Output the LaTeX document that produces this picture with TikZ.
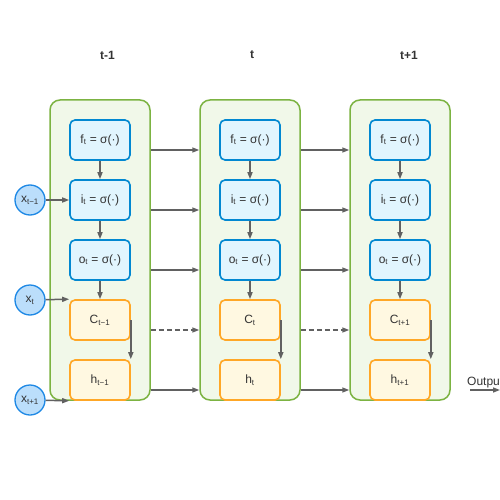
\documentclass[tikz,border=0pt]{standalone}
\usepackage{fontspec}
\setmainfont{Liberation Sans}
\usetikzlibrary{arrows.meta}

\definecolor{cellfill}{HTML}{F1F8E9}
\definecolor{cellline}{HTML}{7CB342}
\definecolor{gatefill}{HTML}{E1F5FE}
\definecolor{gateline}{HTML}{0288D1}
\definecolor{statefill}{HTML}{FFF8E1}
\definecolor{stateline}{HTML}{FFA726}
\definecolor{inpfill}{HTML}{BBDEFB}
\definecolor{inpline}{HTML}{1E88E5}
\definecolor{flow}{HTML}{616161}
\definecolor{ink}{HTML}{333333}

\tikzset{
    cellbox/.style={draw=cellline, fill=cellfill, line width=1.5pt, rounded corners=10pt,
        minimum width=100pt, minimum height=300pt, inner sep=0pt},
    gatebox/.style={draw=gateline, fill=gatefill, line width=1.6pt, rounded corners=5pt,
        minimum width=60pt, minimum height=40pt, inner sep=0pt, text=ink, font=\fontsize{12}{14}\selectfont},
    statebox/.style={gatebox, draw=stateline, fill=statefill},
    inpnode/.style={circle, draw=inpline, fill=inpfill, line width=1.3pt, minimum size=30pt,
        inner sep=0pt, text=ink, font=\fontsize{12}{14}\selectfont},
    steplabel/.style={anchor=west, inner sep=0pt, text=ink, font=\bfseries\fontsize{12}{14}\selectfont},
    flowarrow/.style={draw=flow, line width=1.5pt, -{Triangle[length=7pt,width=5pt]}}
}

\begin{document}
\begin{tikzpicture}[x=1pt, y=-1pt]
    \clip (0,0) rectangle (500,500);
    \fill[white] (0,0) rectangle (500,500);
    % one LSTM cell per time step
    \foreach \k/\lbl/\sub in {1/t-1/t−1, 2/t/t, 3/t+1/t+1} {
        \pgfmathsetmacro{\cx}{100+150*(\k-1)}
        \node[steplabel] (s\k) at (\cx,55) {\lbl};
        \node[cellbox] (c\k) at (\cx,250) {};
        \node[gatebox] (f\k) at (\cx,140) {f\textsubscript{t} = σ(·)};
        \node[gatebox] (i\k) at (\cx,200) {i\textsubscript{t} = σ(·)};
        \node[gatebox] (o\k) at (\cx,260) {o\textsubscript{t} = σ(·)};
        \node[statebox] (C\k) at (\cx,320) {C\textsubscript{\sub}};
        \node[statebox] (h\k) at (\cx,380) {h\textsubscript{\sub}};
        \draw[flowarrow] (f\k) -- (i\k);
        \draw[flowarrow] (i\k) -- (o\k);
        \draw[flowarrow] (o\k) -- (C\k);
        \draw[flowarrow] (C\k.east) -- (C\k.east |- h\k.north);
    }
    % links between time steps
    \foreach \a/\b in {1/2, 2/3} {
        \draw[flowarrow] ([yshift=-10pt]c\a.east |- f\a) -- ([yshift=-10pt]c\b.west |- f\a);
        \draw[flowarrow] ([yshift=-10pt]c\a.east |- i\a) -- ([yshift=-10pt]c\b.west |- i\a);
        \draw[flowarrow] ([yshift=-10pt]c\a.east |- o\a) -- ([yshift=-10pt]c\b.west |- o\a);
        \draw[flowarrow, dash pattern=on 5pt off 3pt] ([yshift=-10pt]c\a.east |- C\a) -- ([yshift=-10pt]c\b.west |- C\a);
        \draw[flowarrow] ([yshift=-10pt]c\a.east |- h\a) -- ([yshift=-10pt]c\b.west |- h\a);
    }
    % inputs
    \node[inpnode] (x1) at (30,200) {x\textsubscript{t−1}};
    \node[inpnode] (x2) at (30,300) {x\textsubscript{t}};
    \node[inpnode] (x3) at (30,400) {x\textsubscript{t+1}};
    \draw[flowarrow] (x1) -- (i1.west);
    \draw[flowarrow] (x2) -- (C1.north west);
    \draw[flowarrow] (x3) -- (h1.south west);
    % output
    \node[anchor=base west, inner sep=0pt, text=ink, font=\fontsize{12}{14}\selectfont] (out) at (467,385) {Output};
    \coordinate (outa) at (470,390);
    \coordinate (outb) at (500,390);
    \draw[flowarrow] (outa) -- (outb);
\end{tikzpicture}
\end{document}
